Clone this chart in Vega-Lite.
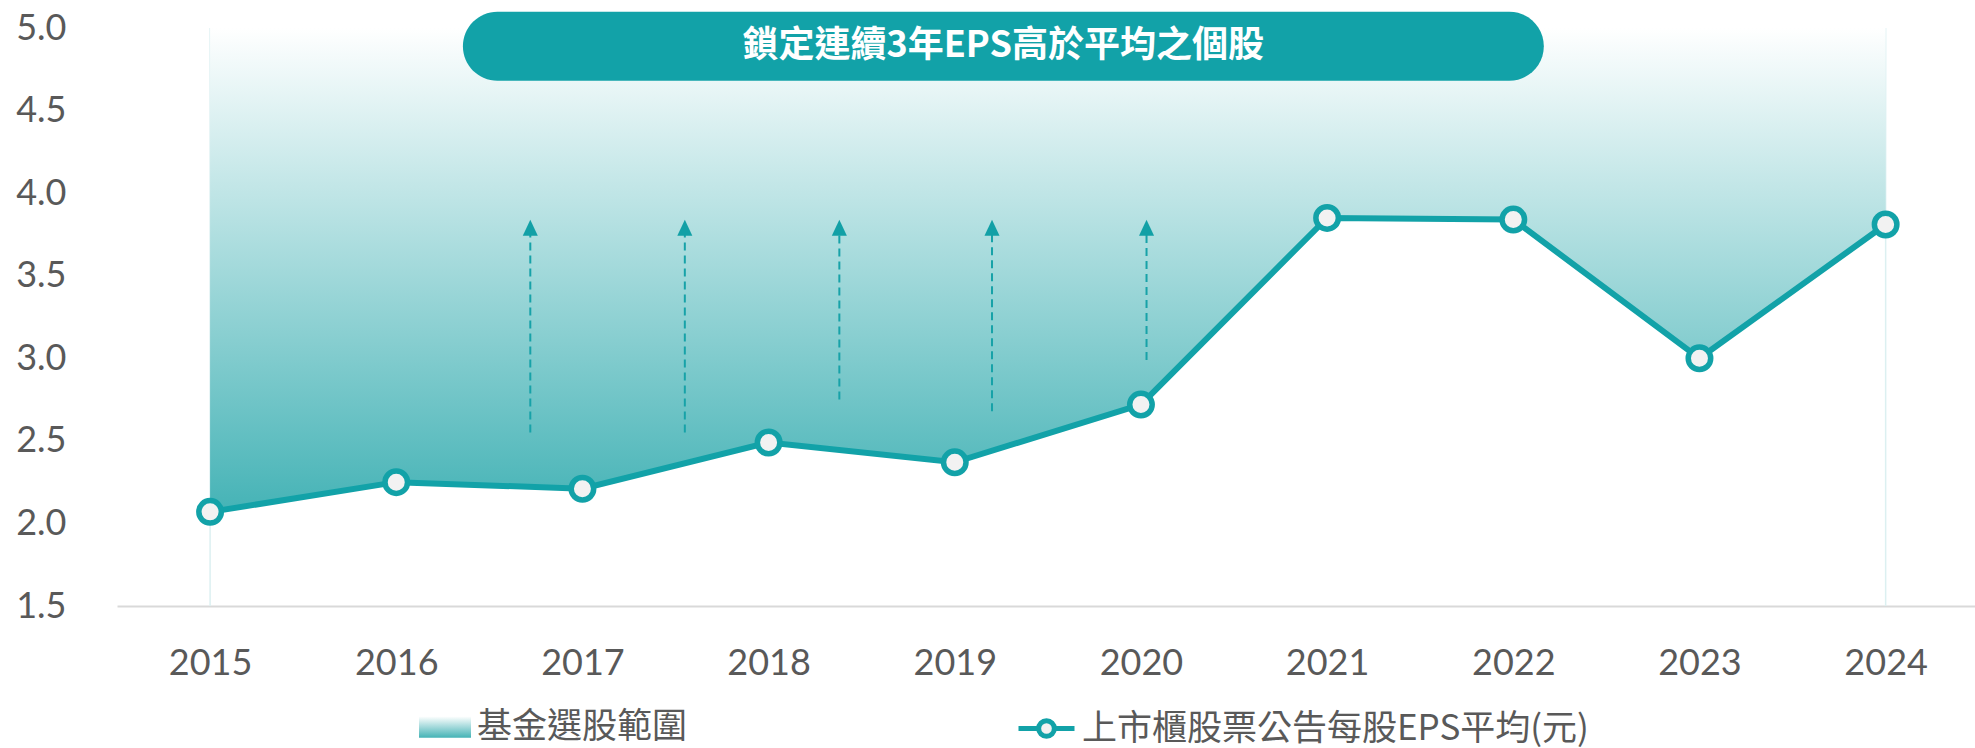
{
  "$schema": "https://vega.github.io/schema/vega-lite/v6.json",
  "width": 1858,
  "height": 578,
  "autosize": {"type": "none"},
  "padding": {"left": 117, "top": 28, "right": 0, "bottom": 142},
  "background": "white",
  "config": {
    "view": {"stroke": null},
    "axisX": {"domainColor": "#d9d9d9", "domainWidth": 2, "ticks": false, "grid": false, "labelFont": "Lato", "labelFontSize": 36, "labelColor": "#595959", "labelPadding": 40, "labelFlush": false, "labelOverlap": false, "labelBound": false},
    "axisY": {"domain": false, "ticks": false, "grid": false, "labelFont": "Lato", "labelFontSize": 36, "labelColor": "#595959", "labelPadding": 51, "labelBaseline": "middle"},
    "legend": {"labelFont": "Noto Sans CJK TC", "labelFontSize": 35, "labelColor": "#595959", "labelLimit": 0, "padding": 0}
  },
  "datasets": {
    "eps": [
      {"year": 2015, "eps": 2.07},
      {"year": 2016, "eps": 2.25},
      {"year": 2017, "eps": 2.21},
      {"year": 2018, "eps": 2.49},
      {"year": 2019, "eps": 2.37},
      {"year": 2020, "eps": 2.72},
      {"year": 2021, "eps": 3.85},
      {"year": 2022, "eps": 3.84},
      {"year": 2023, "eps": 3.00},
      {"year": 2024, "eps": 3.81}
    ],
    "arrows": [
      {"pos": 2016.72, "from": 2.55, "to": 3.79},
      {"pos": 2017.55, "from": 2.55, "to": 3.79},
      {"pos": 2018.38, "from": 2.75, "to": 3.79},
      {"pos": 2019.20, "from": 2.68, "to": 3.79},
      {"pos": 2020.03, "from": 2.99, "to": 3.79}
    ],
    "edges": [{"year": 2015}, {"year": 2024}],
    "banner": [{"label": "鎖定連續3年EPS高於平均之個股"}]
  },
  "layer": [
    {
      "data": {"name": "edges"},
      "mark": {"type": "rule", "color": "#dcf0f1", "strokeWidth": 1.5},
      "encoding": {
        "x": {"field": "year", "type": "quantitative", "title": null, "scale": {"domain": [2014.5, 2024.48], "nice": false, "zero": false}, "axis": {"values": [2015, 2016, 2017, 2018, 2019, 2020, 2021, 2022, 2023, 2024], "format": "d"}},
        "y": {"datum": 1.5, "type": "quantitative", "title": null, "scale": {"domain": [1.5, 5], "nice": false, "zero": false}, "axis": {"values": [1.5, 2, 2.5, 3, 3.5, 4, 4.5, 5], "format": ".1f"}},
        "y2": {"datum": 5}
      }
    },
    {
      "data": {"name": "eps"},
      "mark": {
        "type": "area",
        "strokeWidth": 0,
        "strokeOpacity": 0,
        "fill": {"gradient": "linear", "x1": 0, "y1": 0, "x2": 0, "y2": 1, "stops": [{"offset": 0, "color": "#ffffff"}, {"offset": 1, "color": "#45b3b6"}]}
      },
      "encoding": {
        "x": {"field": "year", "type": "quantitative", "title": null, "scale": {"domain": [2014.5, 2024.48], "nice": false, "zero": false}},
        "y": {"field": "eps", "type": "quantitative", "title": null, "scale": {"domain": [1.5, 5], "nice": false, "zero": false}},
        "y2": {"datum": 5},
        "stroke": {
          "datum": "基金選股範圍",
          "scale": {"range": ["#45b3b6"]},
          "legend": {
            "orient": "none", "legendX": 302, "legendY": 673, "title": null,
            "symbolType": "M-1,-0.41H1V0.41H-1Z", "symbolSize": 2704, "symbolStrokeWidth": 0, "labelOffset": 6,
            "encode": {"symbols": {"update": {
              "fill": {"value": {"gradient": "linear", "x1": 0, "y1": 0, "x2": 0, "y2": 1, "stops": [{"offset": 0, "color": "#ffffff"}, {"offset": 0.25, "color": "#e6f5f5"}, {"offset": 1, "color": "#13a1a7"}]}},
              "stroke": {"value": "transparent"},
              "opacity": {"value": 1},
              "fillOpacity": {"value": 1}
            }}}
          }
        }
      }
    },
    {
      "data": {"name": "arrows"},
      "mark": {"type": "rule", "color": "#17a2a8", "strokeWidth": 2, "strokeDash": [8, 5]},
      "encoding": {
        "x": {"field": "pos", "type": "quantitative", "title": null, "scale": {"domain": [2014.5, 2024.48], "nice": false, "zero": false}},
        "y": {"field": "from", "type": "quantitative", "title": null, "scale": {"domain": [1.5, 5], "nice": false, "zero": false}},
        "y2": {"field": "to"}
      }
    },
    {
      "data": {"name": "arrows"},
      "mark": {"type": "point", "shape": "M0,-1L0.94,1H-0.94Z", "filled": true, "size": 256, "color": "#12a0a6", "opacity": 1},
      "encoding": {
        "x": {"field": "pos", "type": "quantitative", "title": null, "scale": {"domain": [2014.5, 2024.48], "nice": false, "zero": false}},
        "y": {"field": "to", "type": "quantitative", "title": null, "scale": {"domain": [1.5, 5], "nice": false, "zero": false}}
      }
    },
    {
      "data": {"name": "eps"},
      "mark": {"type": "line", "strokeWidth": 6},
      "encoding": {
        "x": {"field": "year", "type": "quantitative", "title": null, "scale": {"domain": [2014.5, 2024.48], "nice": false, "zero": false}},
        "y": {"field": "eps", "type": "quantitative", "title": null, "scale": {"domain": [1.5, 5], "nice": false, "zero": false}},
        "color": {
          "datum": "上市櫃股票公告每股EPS平均(元)",
          "scale": {"range": ["#12a2a8"]},
          "legend": {
            "orient": "none", "legendX": 899, "legendY": 670, "title": null,
            "symbolType": "M-1,0H-0.28M0.28,0H1M0.28,0A0.28,0.28,0,1,1,-0.28,0A0.28,0.28,0,1,1,0.28,0Z",
            "symbolSize": 3136, "symbolStrokeWidth": 5, "labelOffset": 5,
            "encode": {"symbols": {"update": {
              "fill": {"value": "#f2f2f2"},
              "stroke": {"value": "#12a2a8"},
              "opacity": {"value": 1},
              "fillOpacity": {"value": 1}
            }}}
          }
        }
      }
    },
    {
      "data": {"name": "eps"},
      "mark": {"type": "point", "filled": true, "fill": "#f2f2f2", "stroke": "#12a2a8", "strokeWidth": 5.5, "size": 506, "opacity": 1},
      "encoding": {
        "x": {"field": "year", "type": "quantitative", "title": null, "scale": {"domain": [2014.5, 2024.48], "nice": false, "zero": false}},
        "y": {"field": "eps", "type": "quantitative", "title": null, "scale": {"domain": [1.5, 5], "nice": false, "zero": false}}
      }
    },
    {
      "data": {"name": "banner"},
      "mark": {"type": "rect", "color": "#12a2a8", "cornerRadius": 34.5},
      "encoding": {
        "x": {"datum": 2016.358, "type": "quantitative", "scale": {"domain": [2014.5, 2024.48], "nice": false, "zero": false}},
        "x2": {"datum": 2022.164},
        "y": {"datum": 5.098, "type": "quantitative", "scale": {"domain": [1.5, 5], "nice": false, "zero": false}},
        "y2": {"datum": 4.680}
      }
    },
    {
      "data": {"name": "banner"},
      "mark": {"type": "text", "font": "Noto Sans CJK TC", "fontWeight": "bold", "fontSize": 36, "color": "#ffffff", "align": "center", "baseline": "middle"},
      "encoding": {
        "x": {"datum": 2019.26, "type": "quantitative", "scale": {"domain": [2014.5, 2024.48], "nice": false, "zero": false}},
        "y": {"datum": 4.889, "type": "quantitative", "scale": {"domain": [1.5, 5], "nice": false, "zero": false}},
        "text": {"field": "label"}
      }
    }
  ]
}
